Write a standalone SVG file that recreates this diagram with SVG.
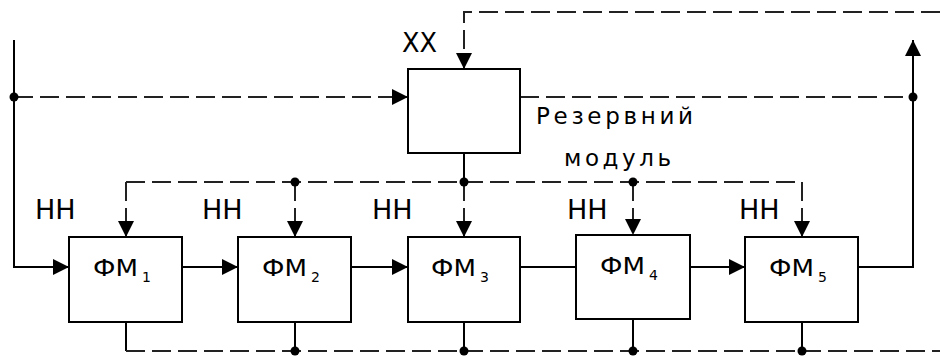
<svg xmlns="http://www.w3.org/2000/svg" width="940" height="356" viewBox="0 0 940 356">
<style>
.box{fill:#fff;stroke:#000;stroke-width:2}
.sl{fill:none;stroke:#000;stroke-width:2}
.dl{fill:none;stroke:#222;stroke-width:2;stroke-dasharray:19 7}
.dot{fill:#000}
.t{font-family:"DejaVu Sans",Verdana,sans-serif;fill:#000}
.fm{font-size:23px}
.sub{font-size:14px}
.nn{font-size:27px}
</style>
<defs>
<marker id="arr" markerUnits="userSpaceOnUse" markerWidth="17" markerHeight="16" refX="16" refY="8" orient="auto" viewBox="0 0 17 16">
<path d="M0,0 L16,8 L0,16 z" fill="#000"/>
</marker>
</defs>

<g id="connectors">
<path class="sl" d="M14,40 V267 H69" marker-end="url(#arr)"/>
<path class="dl" d="M14,97 H408" marker-end="url(#arr)"/>
<path class="dl" d="M940,12 H464 V69" marker-end="url(#arr)"/>
<path class="dl" d="M520,97 H913"/>
<path class="sl" d="M858,267 H913 V40" marker-end="url(#arr)"/>
<path class="sl" d="M182,267 H238" marker-end="url(#arr)"/>
<path class="sl" d="M351,267 H408" marker-end="url(#arr)"/>
<path class="sl" d="M520,267 H576"/>
<path class="sl" d="M690,267 H745" marker-end="url(#arr)"/>
<path class="sl" d="M464,153 V182"/>
<path class="dl" d="M126,182 H802"/>
<path class="dl" d="M126,182 V237" marker-end="url(#arr)"/>
<path class="dl" d="M295,182 V237" marker-end="url(#arr)"/>
<path class="dl" d="M464,182 V237" marker-end="url(#arr)"/>
<path class="dl" d="M633,182 V235" marker-end="url(#arr)"/>
<path class="dl" d="M802,182 V237" marker-end="url(#arr)"/>
<path class="sl" d="M126,322 V351"/>
<path class="dl" d="M126,351 H940"/>
<path class="sl" d="M295,322 V351"/>
<path class="sl" d="M464,322 V351"/>
<path class="sl" d="M633,319 V351"/>
<path class="sl" d="M802,322 V351"/>
<circle class="dot" cx="14" cy="97" r="4.5"/>
<circle class="dot" cx="913" cy="97" r="4.5"/>
<circle class="dot" cx="295" cy="182" r="4.5"/>
<circle class="dot" cx="464" cy="182" r="4.5"/>
<circle class="dot" cx="633" cy="182" r="4.5"/>
<circle class="dot" cx="295" cy="351" r="4.5"/>
<circle class="dot" cx="464" cy="351" r="4.5"/>
<circle class="dot" cx="633" cy="351" r="4.5"/>
<circle class="dot" cx="802" cy="351" r="4.5"/>
</g>

<g id="reserve">
<rect class="box" x="408" y="69" width="112" height="84"/>
<text class="t" x="402" y="52" font-size="26" textLength="35" lengthAdjust="spacingAndGlyphs">ХХ</text>
<text class="t" x="536" y="124" font-size="23" textLength="157" lengthAdjust="spacing">Резервний</text>
<text class="t" x="564" y="166" font-size="23" textLength="107" lengthAdjust="spacing">модуль</text>
</g>

<g id="fm1">
<rect class="box" x="69" y="237" width="113" height="85"/>
<text class="t fm" x="93" y="276" textLength="45" lengthAdjust="spacingAndGlyphs">ФМ</text>
<text class="t sub" x="142" y="282">1</text>
<text class="t nn" x="35" y="219">НН</text>
</g>

<g id="fm2">
<rect class="box" x="238" y="237" width="113" height="85"/>
<text class="t fm" x="262" y="276" textLength="45" lengthAdjust="spacingAndGlyphs">ФМ</text>
<text class="t sub" x="311" y="282">2</text>
<text class="t nn" x="202" y="219">НН</text>
</g>

<g id="fm3">
<rect class="box" x="408" y="237" width="112" height="85"/>
<text class="t fm" x="431" y="276" textLength="45" lengthAdjust="spacingAndGlyphs">ФМ</text>
<text class="t sub" x="480" y="282">3</text>
<text class="t nn" x="372" y="219">НН</text>
</g>

<g id="fm4">
<rect class="box" x="576" y="235" width="114" height="84"/>
<text class="t fm" x="600" y="274" textLength="45" lengthAdjust="spacingAndGlyphs">ФМ</text>
<text class="t sub" x="649" y="280">4</text>
<text class="t nn" x="567" y="219">НН</text>
</g>

<g id="fm5">
<rect class="box" x="745" y="237" width="113" height="85"/>
<text class="t fm" x="769" y="276" textLength="45" lengthAdjust="spacingAndGlyphs">ФМ</text>
<text class="t sub" x="818" y="282">5</text>
<text class="t nn" x="739" y="219">НН</text>
</g>
</svg>
